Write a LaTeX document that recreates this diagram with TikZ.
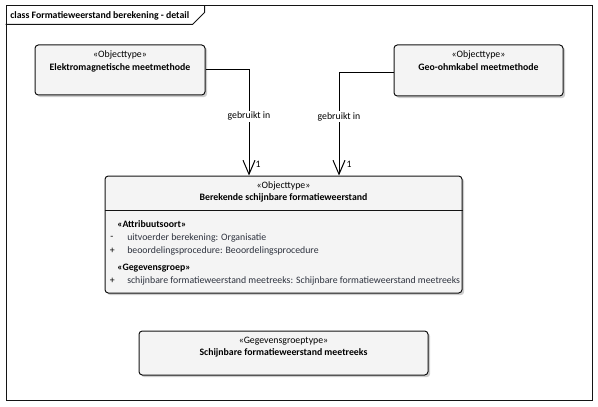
\documentclass[tikz,border=0pt]{standalone}
\usepackage{fontspec}
\setmainfont{Carlito}
\usetikzlibrary{arrows.meta,positioning,shadows,calc}
\newdimen\upx \upx=0.75pt
\newcommand\eafont{\fontsize{7.35pt}{9.4pt}\selectfont}
\definecolor{eaFill}{RGB}{244,244,244}
\definecolor{eaLine}{RGB}{20,20,20}
\definecolor{eaShadow}{RGB}{205,205,205}
\definecolor{eaAttr}{RGB}{45,50,62}
\tikzset{
  eabox/.style={rectangle, draw=eaLine, fill=eaFill, line width=0.75pt, rounded corners=2.5pt,
    drop shadow={shadow xshift=1.6pt, shadow yshift=-1.6pt, fill=eaShadow, opacity=1},
    inner sep=0pt},
  boxtext/.style={align=center, font=\eafont, inner sep=0pt, anchor=north},
  stereohead/.style={anchor=west, font=\eafont\bfseries, inner sep=0pt},
  attrmark/.style={anchor=west, font=\eafont, inner sep=0pt},
  attrtext/.style={anchor=west, font=\eafont, text=eaAttr, inner sep=0pt},
  assoc/.style={-{Straight Barb[length=10.5pt, width=9pt]}, draw=black, line width=0.75pt},
  conlabel/.style={fill=white, font=\eafont, inner sep=1pt},
  multlabel/.style={font=\eafont, inner sep=0pt, anchor=west},
}

\begin{document}
\begin{tikzpicture}[x=0.75pt,y=-0.75pt]
  \useasboundingbox (0,0) rectangle (598,406);

  % diagram frame with title tab
  \node[draw=eaLine, line width=0.75pt, minimum width=586\upx, minimum height=394\upx, inner sep=0pt] (frame) at (299,203) {};
  \draw[eaLine, line width=0.75pt] ([yshift=-19\upx]frame.north west) -- ++(187,0) -- ++(12,-12) -- ++(0,-7);
  \node[anchor=west, font=\eafont\bfseries, inner sep=0pt] (title) at (10,15.5) {class Formatieweerstand berekening - detail};

  % object types on top
  \node[eabox, minimum width=170\upx, minimum height=50\upx] (a1) at (120,70) {};
  \node[boxtext] (a1t) at ([yshift=-6\upx]a1.north) {«Objecttype»\\\textbf{Elektromagnetische meetmethode}};

  \node[eabox, minimum width=169\upx, minimum height=51\upx] (a2) at (478.5,70.5) {};
  \node[boxtext] (a2t) at ([yshift=-6\upx]a2.north) {«Objecttype»\\\textbf{Geo-ohmkabel meetmethode}};

  % main class
  \node[eabox, minimum width=357\upx, minimum height=117\upx] (m) at (283.5,234.5) {};
  \node[boxtext] (mt) at ([yshift=-5.5\upx]m.north) {«Objecttype»\\\textbf{Berekende schijnbare formatieweerstand}};
  \draw[eaLine, line width=0.75pt] ([yshift=-35\upx]m.north west) -- ([yshift=-35\upx]m.north east);

  \node[stereohead] (s1) at (117,224) {«Attribuutsoort»};
  \node[attrmark] (r1m) at (110,238) {-};
  \node[attrtext] (r1) at (127,238) {uitvoerder berekening: Organisatie};
  \node[attrmark] (r2m) at (109.5,251) {+};
  \node[attrtext] (r2) at (127,251) {beoordelingsprocedure: Beoordelingsprocedure};
  \node[stereohead] (s2) at (117,268) {«Gegevensgroep»};
  \node[attrmark] (r3m) at (109.5,281) {+};
  \node[attrtext] (r3) at (127,281) {schijnbare formatieweerstand meetreeks: Schijnbare formatieweerstand meetreeks};

  % data group type
  \node[eabox, minimum width=289\upx, minimum height=44\upx] (b) at (283.5,353) {};
  \node[boxtext] (bt) at ([yshift=-6\upx]b.north) {«Gegevensgroeptype»\\\textbf{Schijnbare formatieweerstand meetreeks}};

  % associations
  \draw[assoc] (a1.east) -| ([xshift=-34.5\upx]m.north)
    node[conlabel, pos=0.72] (c1) {gebruikt in}
    node[multlabel, pos=0.948, xshift=6\upx] (c1m) {1};
  \draw[assoc] ([yshift=-2.5\upx]a2.west) -| ([xshift=55.5\upx]m.north)
    node[conlabel, pos=0.713] (c2) {gebruikt in}
    node[multlabel, pos=0.947, xshift=7\upx] (c2m) {1};
\end{tikzpicture}
\end{document}
